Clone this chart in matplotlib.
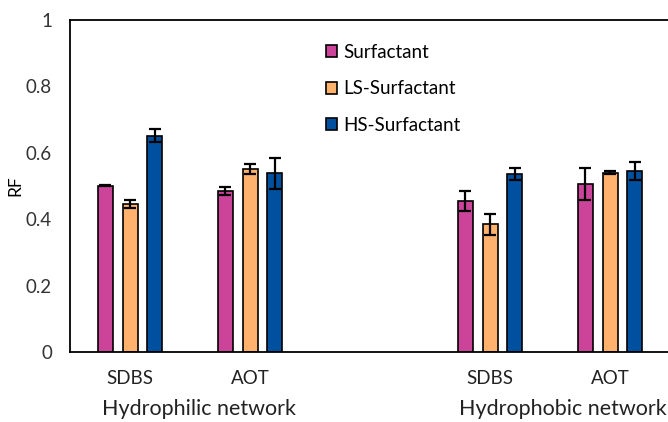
import numpy as np
import matplotlib.pyplot as plt
from matplotlib.patches import Patch

plt.rcParams['font.family'] = ['Lato', 'DejaVu Sans']

categories = ["SDBS", "AOT", "", "SDBS", "AOT"]
groups = ["Hydrophilic network", "Hydrophobic network"]
series = ["Surfactant", "LS-Surfactant", "HS-Surfactant"]

surf = [0.501, 0.485, np.nan, 0.455, 0.505]
surf_err = [0.002, 0.012, np.nan, 0.03, 0.048]
ls_surf = [0.445, 0.550, np.nan, 0.385, 0.540]
ls_err = [0.012, 0.015, np.nan, 0.032, 0.005]
hs_surf = [0.652, 0.538, np.nan, 0.536, 0.545]
hs_err = [0.02, 0.047, np.nan, 0.018, 0.026]

colors = ["#CC4499", "#FFB26E", "#0050A0"]

fig = plt.figure(figsize=(6.68, 4.22), dpi=100)
ax = fig.add_axes([0.1048, 0.166, 0.8952, 0.7866])

x = np.arange(len(categories))
w = 0.125
off = 0.205
for i, (vals, errs) in enumerate([(surf, surf_err), (ls_surf, ls_err), (hs_surf, hs_err)]):
    ax.bar(x + (i - 1) * off, vals, width=w, color=colors[i], edgecolor="black",
           linewidth=1.2, yerr=errs, capsize=4,
           error_kw=dict(elinewidth=1.6, capthick=1.6, ecolor="black"), zorder=2)

ax.set_xlim(-0.5, 4.483)
ax.set_ylim(0, 1)
ax.set_yticks([0, 0.2, 0.4, 0.6, 0.8, 1])
ax.set_yticklabels(["0", "0.2", "0.4", "0.6", "0.8", "1"], fontsize=13.5, color="#333333")
ax.set_xticks([0, 1, 3, 4])
ax.set_xticklabels(["SDBS", "AOT", "SDBS", "AOT"], fontsize=13.5, color="#222222")
ax.tick_params(axis="both", length=0)
ax.tick_params(axis="x", pad=13)
ax.tick_params(axis="y", pad=13)
ax.set_ylabel("RF", fontsize=12.5)
ax.yaxis.set_label_coords(-0.078, 0.5)
for s in ["left", "bottom", "top"]:
    ax.spines[s].set_linewidth(1.3)
ax.spines["right"].set_visible(False)

ax.text(0.571, -0.172, groups[0], transform=ax.get_xaxis_transform(), ha="center",
        va="center", fontsize=15.5, color="#222222")
ax.text(3.604, -0.172, groups[1], transform=ax.get_xaxis_transform(), ha="center",
        va="center", fontsize=15.5, color="#222222")

handles = [Patch(facecolor=c, edgecolor="black", linewidth=1.2) for c in colors]
ax.legend(handles, series, loc="upper left", bbox_to_anchor=(0.4, 0.98), frameon=False,
          fontsize=13.5, labelspacing=1.05, handlelength=0.6, handleheight=0.6,
          handletextpad=0.3)

fig.savefig("out.png", dpi=100)
